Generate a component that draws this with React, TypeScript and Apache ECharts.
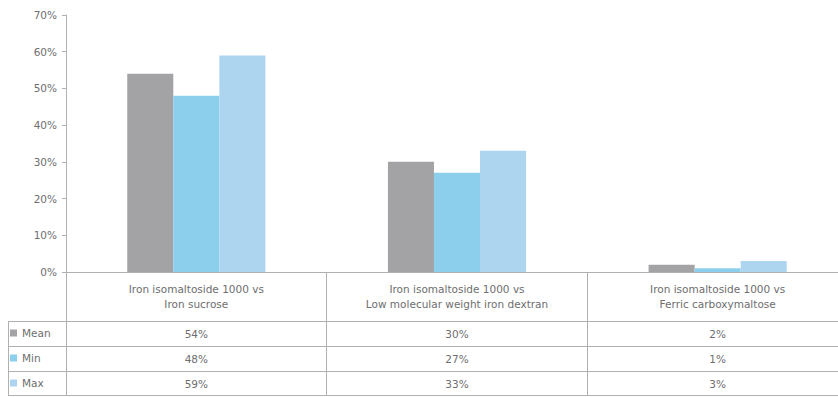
import React, { useEffect, useRef } from "react";
import * as echarts from "echarts";

const categories = [
  "Iron isomaltoside 1000 vs\nIron sucrose",
  "Iron isomaltoside 1000 vs\nLow molecular weight iron dextran",
  "Iron isomaltoside 1000 vs\nFerric carboxymaltose",
];
const seriesNames = ["Mean", "Min", "Max"];
const meanValues = [54, 30, 2];
const minValues = [48, 27, 1];
const maxValues = [59, 33, 3];
const seriesColors = ["#a3a3a6", "#8ccfec", "#add5f0"];
const yTicks = [0, 10, 20, 30, 40, 50, 60, 70];

const TEXT = "#6e6e6e";
const LINE = "#b0b0b0";
const FONT = "'DejaVu Sans', 'Noto Sans', sans-serif";
const FS = 10.5;

export default function App() {
  const ref = useRef<HTMLDivElement>(null);
  useEffect(() => {
    if (!ref.current) return;
    const chart = echarts.init(ref.current, undefined, { renderer: "svg" });
    const allValues = [meanValues, minValues, maxValues];
    const gridLeft = 66;
    const gridTop = 15;
    const gridBottomY = 272;
    const rowLines = [321, 346, 371, 395];
    chart.setOption({
      animation: false,
      grid: { left: gridLeft, top: gridTop, width: 782, height: gridBottomY - gridTop },
      xAxis: {
        type: "category",
        data: categories,
        axisLine: { lineStyle: { color: LINE } },
        axisTick: { show: true, length: rowLines[3] - gridBottomY, lineStyle: { color: LINE } },
        axisLabel: {
          color: TEXT,
          fontFamily: FONT,
          fontSize: FS,
          lineHeight: 15,
          margin: 9,
          interval: 0,
        },
      },
      yAxis: {
        type: "value",
        min: yTicks[0],
        max: yTicks[yTicks.length - 1],
        interval: 10,
        splitLine: { show: false },
        axisLine: { show: true, lineStyle: { color: LINE } },
        axisTick: { show: true, length: 4, lineStyle: { color: LINE } },
        axisLabel: {
          color: TEXT,
          fontFamily: FONT,
          fontSize: FS,
          margin: 9,
          formatter: (v: number) => v + "%",
        },
      },
      legend: {
        orient: "vertical",
        left: 10,
        top: 327,
        height: 70,
        padding: 0,
        itemWidth: 7,
        itemHeight: 7,
        itemGap: 13,
        icon: "rect",
        textStyle: { color: TEXT, fontFamily: FONT, fontSize: FS, lineHeight: 12 },
        data: seriesNames,
      },
      series: seriesNames.map((name, i) => ({
        name,
        type: "bar",
        data: allValues[i],
        barGap: "0%",
        barCategoryGap: "47%",
        itemStyle: { color: seriesColors[i] },
      })),
    });

    const graphics: any[] = [];
    rowLines.forEach((y) => {
      graphics.push({
        type: "line",
        shape: { x1: 8, y1: y + 0.5, x2: 848, y2: y + 0.5 },
        style: { stroke: LINE, lineWidth: 1 },
        silent: true,
      });
    });
    graphics.push({
      type: "line",
      shape: { x1: 8.5, y1: rowLines[0], x2: 8.5, y2: rowLines[3] },
      style: { stroke: LINE, lineWidth: 1 },
      silent: true,
    });
    categories.forEach((c, ci) => {
      const x = chart.convertToPixel({ xAxisIndex: 0 }, c) as number;
      allValues.forEach((vals, ri) => {
        graphics.push({
          type: "text",
          x,
          y: (rowLines[ri] + rowLines[ri + 1]) / 2 + 0.5,
          style: {
            text: vals[ci] + "%",
            fill: TEXT,
            font: `${FS}px ${FONT}`,
            align: "center",
            verticalAlign: "middle",
          },
          silent: true,
        });
      });
    });
    chart.setOption({ graphic: graphics });

    return () => chart.dispose();
  }, []);
  return (
    <div
      style={{
        position: "absolute",
        left: 0,
        top: 0,
        width: 838,
        height: 397,
        overflow: "hidden",
      }}
    >
      <div ref={ref} style={{ width: 848, height: 397 }} />
    </div>
  );
}
